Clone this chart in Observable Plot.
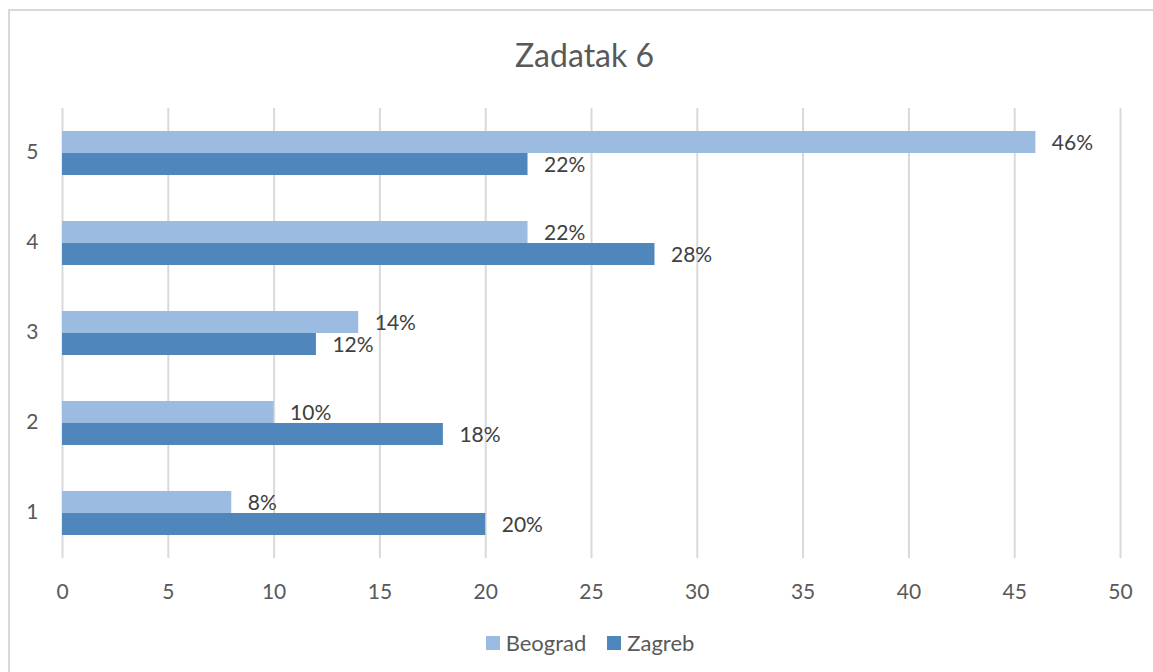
<!DOCTYPE html>
<html>
<head>
<meta charset="utf-8">
<script src="https://cdn.jsdelivr.net/npm/d3@7"></script>
<script src="https://cdn.jsdelivr.net/npm/@observablehq/plot@0.6"></script>
<style>
  html, body { margin: 0; padding: 0; background: #fff; }
  #wrap { position: relative; width: 1153px; height: 672px; overflow: hidden; font-family: Lato, "Open Sans", sans-serif; background: #fff; }
  #frame { position: absolute; left: 8px; top: 9px; width: 1200px; height: 700px; border-left: 2px solid #D9D9D9; border-top: 2px solid #D9D9D9; box-sizing: border-box; }
  #title { position: absolute; left: 16px; top: 0; width: 1137px; height: 100px; line-height: 110px; text-align: center; font-size: 32px; color: #595959; }
  #chart { position: absolute; left: 0; top: 100px; }
  #legend { position: absolute; left: 27px; top: 629px; width: 1126px; text-align: center; font-size: 22px; color: #595959; display: flex; justify-content: center; align-items: center; gap: 21px; }
  .item { display: flex; align-items: center; gap: 6px; }
  .sw { width: 14px; height: 14px; display: inline-block; }
</style>
</head>
<body>
<div id="wrap">
  <div id="frame"></div>
  <div id="title">Zadatak 6</div>
  <div id="chart"></div>
  <div id="legend"></div>
</div>
<script>
const categories = ["5", "4", "3", "2", "1"];
const beograd = [46, 22, 14, 10, 8];
const zagreb = [22, 28, 12, 18, 20];
const series = ["Beograd", "Zagreb"];
const seriesColors = ["#9BBBE1", "#4F87BD"];
const xTicks = [0, 5, 10, 15, 20, 25, 30, 35, 40, 45, 50];

const rowsB = categories.map((c, i) => ({cat: c, value: beograd[i], series: series[0]}));
const rowsZ = categories.map((c, i) => ({cat: c, value: zagreb[i], series: series[1]}));

const chart = Plot.plot({
  width: 1153,
  height: 510,
  marginTop: 8,
  marginBottom: 52,
  marginLeft: 62,
  marginRight: 33,
  style: {fontFamily: "Lato, 'Open Sans', sans-serif", fontSize: "21px", color: "#595959", background: "transparent"},
  x: {domain: [0, 50], ticks: xTicks, tickSize: 0, tickPadding: 26, label: null},
  y: {domain: categories, paddingInner: 0.51, paddingOuter: 0.255, axis: null},
  marks: [
    Plot.gridX(xTicks, {stroke: "#D9D9D9", strokeOpacity: 1, strokeWidth: 2}),
    Plot.axisY({tickSize: 0, tickPadding: 24, dy: -1, label: null}),
    Plot.barX(rowsB, {x: "value", y: "cat", fill: seriesColors[0], insetBottom: 22}),
    Plot.barX(rowsZ, {x: "value", y: "cat", fill: seriesColors[1], insetTop: 22}),
    Plot.text(rowsB, {x: "value", y: "cat", text: d => d.value + "%", textAnchor: "start", dx: 16, dy: -10, fill: "#404040", fontSize: 21}),
    Plot.text(rowsZ, {x: "value", y: "cat", text: d => d.value + "%", textAnchor: "start", dx: 16, dy: 12, fill: "#404040", fontSize: 21})
  ]
});
document.getElementById("chart").appendChild(chart);

const legend = document.getElementById("legend");
series.forEach((s, i) => {
  const item = document.createElement("span");
  item.className = "item";
  const sw = document.createElement("span");
  sw.className = "sw";
  sw.style.background = seriesColors[i];
  const label = document.createElement("span");
  label.textContent = s;
  item.appendChild(sw);
  item.appendChild(label);
  legend.appendChild(item);
});
</script>
</body>
</html>
